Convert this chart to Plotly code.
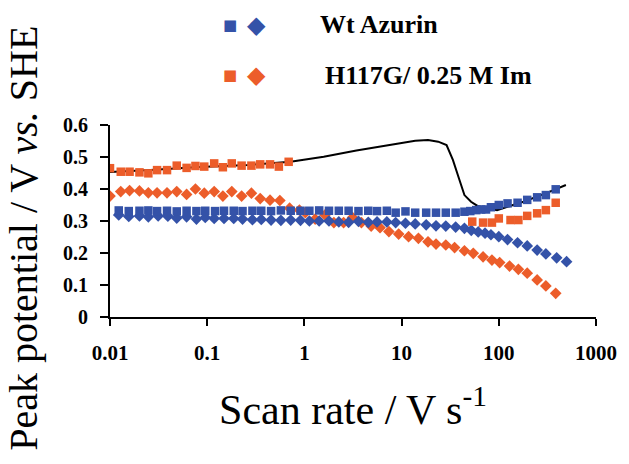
import plotly.graph_objects as go

# ---------------- data ----------------
blue_sq_x = [0.0123, 0.0156, 0.0201, 0.0248, 0.0305, 0.0386, 0.0486, 0.0614, 0.0775, 0.0955,
             0.1205, 0.149, 0.1875, 0.231, 0.292, 0.360, 0.454, 0.573, 0.723, 0.912,
             1.125, 1.419, 1.790, 2.26, 2.85, 3.60, 4.54, 5.59, 7.05, 8.69,
             10.96, 13.8, 17.9, 22.6, 28.5, 36.0, 44.3, 50.9, 58.6, 65.8,
             73.9, 83.0, 100, 123, 156, 196, 248, 305, 385]
blue_sq_y = [0.333, 0.331, 0.332, 0.333, 0.331, 0.332, 0.330, 0.332, 0.331, 0.332,
             0.331, 0.332, 0.332, 0.331, 0.332, 0.332, 0.331, 0.333, 0.332, 0.332,
             0.332, 0.333, 0.332, 0.332, 0.332, 0.331, 0.332, 0.331, 0.332, 0.326,
             0.330, 0.326, 0.326, 0.326, 0.326, 0.326, 0.329, 0.331, 0.334, 0.336,
             0.336, 0.343, 0.350, 0.355, 0.357, 0.366, 0.374, 0.381, 0.399]

blue_dia_x = [0.0123, 0.0156, 0.0201, 0.0248, 0.0313, 0.0394, 0.0486, 0.0614, 0.0775, 0.0955,
              0.118, 0.149, 0.1875, 0.231, 0.292, 0.360, 0.454, 0.573, 0.723, 0.912,
              1.125, 1.419, 1.790, 2.26, 2.85, 3.60, 4.54, 5.59, 7.05, 8.69,
              10.96, 13.8, 17.9, 22.6, 28.5, 36.0, 44.3, 52.1, 61.4, 72.2,
              83.0, 100, 123, 156, 196, 248, 305, 394, 498]
blue_dia_y = [0.319, 0.314, 0.316, 0.313, 0.316, 0.315, 0.309, 0.313, 0.306, 0.311,
              0.308, 0.308, 0.308, 0.306, 0.304, 0.305, 0.303, 0.302, 0.303, 0.302,
              0.300, 0.300, 0.300, 0.297, 0.296, 0.299, 0.296, 0.297, 0.297, 0.295,
              0.293, 0.291, 0.288, 0.285, 0.284, 0.281, 0.277, 0.271, 0.266, 0.262,
              0.257, 0.251, 0.242, 0.232, 0.222, 0.209, 0.197, 0.185, 0.173]

org_sq_x = [0.0100, 0.0129, 0.0159, 0.0201, 0.0248, 0.0305, 0.0386, 0.0486, 0.0614, 0.0757,
            0.0933, 0.118, 0.145, 0.179, 0.226, 0.285, 0.351, 0.443, 0.546, 0.689,
            53.3, 68.9, 85.0, 100, 132, 159, 196, 248, 305, 385]
org_sq_y = [0.465, 0.454, 0.454, 0.452, 0.449, 0.459, 0.459, 0.473, 0.466, 0.472,
            0.470, 0.480, 0.468, 0.480, 0.473, 0.473, 0.477, 0.477, 0.470, 0.485,
            0.298, 0.295, 0.295, 0.308, 0.303, 0.303, 0.316, 0.324, 0.334, 0.357]

org_dia_x = [0.0100, 0.0129, 0.0159, 0.0201, 0.0248, 0.0305, 0.0386, 0.0486, 0.0614, 0.0757,
             0.0933, 0.118, 0.145, 0.179, 0.226, 0.285, 0.351, 0.443, 0.559, 0.705,
             0.889, 1.023, 1.29, 1.63, 2.01, 2.53, 3.13, 3.86, 4.86, 6.0,
             7.40, 9.33, 11.8, 14.9, 18.7, 22.6, 28.5, 35.1, 44.3, 54.6,
             68.9, 85.0, 102, 129, 159, 196, 248, 305, 385]
org_dia_y = [0.378, 0.392, 0.395, 0.394, 0.388, 0.388, 0.388, 0.392, 0.383, 0.400,
             0.387, 0.392, 0.378, 0.392, 0.378, 0.387, 0.370, 0.365, 0.364, 0.340,
             0.334, 0.326, 0.306, 0.319, 0.295, 0.295, 0.311, 0.295, 0.284, 0.279,
             0.267, 0.259, 0.251, 0.246, 0.235, 0.228, 0.225, 0.217, 0.207, 0.199,
             0.188, 0.178, 0.170, 0.159, 0.149, 0.137, 0.116, 0.097, 0.074]

line_x = [0.01, 0.026, 0.083, 0.265, 0.72, 1.58, 3.43, 7.4, 13.8, 18.7, 23.8,
          29.0, 33.7, 39.4, 44.3, 51.8, 60.4, 96, 179, 308, 490]
line_y = [0.453, 0.459, 0.469, 0.475, 0.485, 0.501, 0.520, 0.5375, 0.551, 0.553, 0.548,
          0.5375, 0.491, 0.428, 0.381, 0.360, 0.347, 0.334, 0.360, 0.387, 0.4125]

x_tickvals = [0.01, 0.1, 1, 10, 100, 1000]
x_ticktext = ["0.01", "0.1", "1", "10", "100", "1000"]
y_tickvals = [0, 0.1, 0.2, 0.3, 0.4, 0.5, 0.6]
y_ticktext = ["0", "0.1", "0.2", "0.3", "0.4", "0.5", "0.6"]

legend_labels = ["Wt Azurin", "H117G/ 0.25 M Im"]

# ---------------- styles ----------------
BLUE = "#3452A8"
ORANGE = "#EC5D2A"
SERIF = "Liberation Serif"

fig = go.Figure()
fig.add_trace(go.Scatter(x=line_x, y=line_y, mode="lines",
                         line=dict(color="black", width=2), hoverinfo="skip"))
fig.add_trace(go.Scatter(x=org_dia_x, y=org_dia_y, mode="markers",
                         marker=dict(symbol="diamond", size=9, color=ORANGE, line=dict(width=0))))
fig.add_trace(go.Scatter(x=blue_dia_x, y=blue_dia_y, mode="markers",
                         marker=dict(symbol="diamond", size=9, color=BLUE, line=dict(width=0))))
fig.add_trace(go.Scatter(x=org_sq_x, y=org_sq_y, mode="markers",
                         marker=dict(symbol="square", size=8.5, color=ORANGE, line=dict(width=0))))
fig.add_trace(go.Scatter(x=blue_sq_x, y=blue_sq_y, mode="markers",
                         marker=dict(symbol="square", size=8.5, color=BLUE, line=dict(width=0))))

fig.update_layout(
    width=629, height=464,
    margin=dict(l=110, r=25, t=125, b=147, pad=0),
    paper_bgcolor="white", plot_bgcolor="white",
    showlegend=False,
    font=dict(family=SERIF, color="black"),
)
fig.update_xaxes(
    type="log", range=[-2, 3],
    tickvals=x_tickvals, ticktext=x_ticktext,
    tickfont=dict(family=SERIF, size=21, weight="bold", color="black"),
    ticks="outside", ticklen=7, tickwidth=2, tickcolor="black",
    showline=True, linecolor="black", linewidth=2,
    showgrid=False, zeroline=False,
    ticklabelstandoff=9,
    title=dict(text="Scan rate / V s<sup>-1</sup>",
               font=dict(family=SERIF, size=42, color="black"), standoff=30),
)
fig.update_yaxes(
    range=[0, 0.6],
    tickvals=y_tickvals, ticktext=y_ticktext,
    tickfont=dict(family=SERIF, size=20, weight="bold", color="black"),
    ticks="outside", ticklen=8, tickwidth=2, tickcolor="black",
    showline=True, linecolor="black", linewidth=2,
    showgrid=False, zeroline=False,
    ticklabelstandoff=8,
)

# y-axis title
fig.add_annotation(text="Peak potential / V <i>vs.</i> SHE", xref="paper", yref="paper",
                   x=-0.178, y=0.41, xanchor="center", yanchor="middle", textangle=-90,
                   showarrow=False, font=dict(family=SERIF, size=40, color="black"))

# legend (built from glyph annotations)
rows = [(1.521, BLUE, legend_labels[0], 0.429), (1.260, ORANGE, legend_labels[1], 0.439)]
for ypos, col, label, xt in rows:
    fig.add_annotation(text="■", xref="paper", yref="paper", x=0.247, y=ypos,
                       xanchor="center", yanchor="middle", showarrow=False,
                       font=dict(family="DejaVu Sans", size=15, color=col))
    fig.add_annotation(text="◆", xref="paper", yref="paper", x=0.3016, y=ypos,
                       xanchor="center", yanchor="middle", showarrow=False,
                       font=dict(family="DejaVu Sans", size=24, color=col))
    fig.add_annotation(text="<b>" + label + "</b>", xref="paper", yref="paper", x=xt, y=ypos,
                       xanchor="left", yanchor="middle", showarrow=False,
                       font=dict(family=SERIF, size=26, color="black"))

fig.write_html("out.html")
